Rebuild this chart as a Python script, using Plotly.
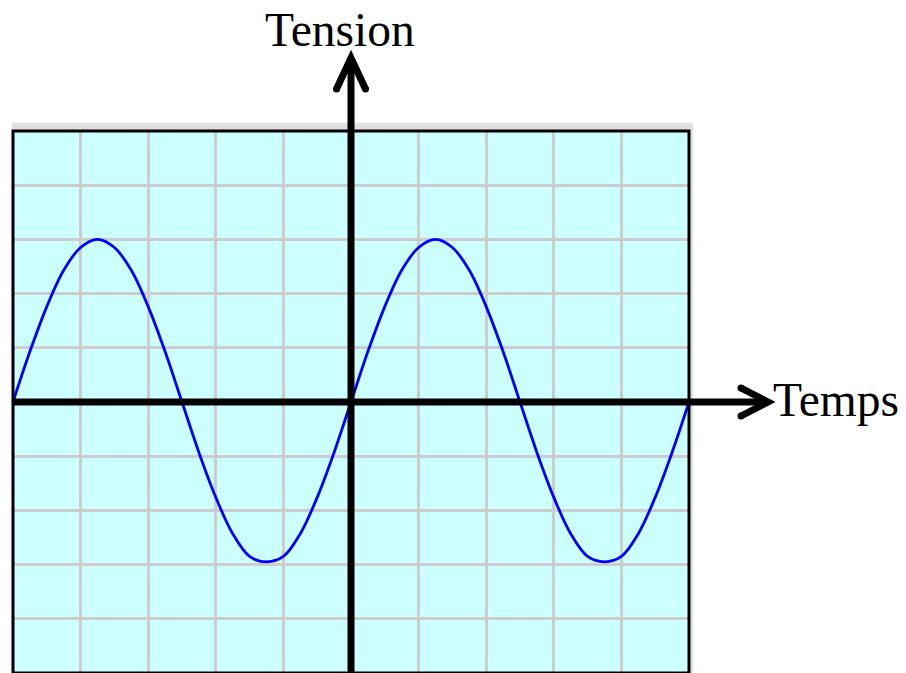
import plotly.graph_objects as go

# ---- data (in screen divisions) ----
t_div = [-5.0, -4.75, -4.5, -4.25, -4.0, -3.75, -3.5, -3.25, -3.0, -2.75,
         -2.5, -2.25, -2.0, -1.75, -1.5, -1.25, -1.0, -0.75, -0.5, -0.25,
         0.0, 0.25, 0.5, 0.75, 1.0, 1.25, 1.5, 1.75, 2.0, 2.25,
         2.5, 2.75, 3.0, 3.25, 3.5, 3.75, 4.0, 4.25, 4.5, 4.75, 5.0]
u_div = [0.0, 0.93, 1.76, 2.43, 2.85, 3.0, 2.85, 2.43, 1.76, 0.93,
         0.0, -0.93, -1.76, -2.43, -2.85, -2.95, -2.85, -2.43, -1.76, -0.93,
         0.0, 0.93, 1.76, 2.43, 2.85, 3.0, 2.85, 2.43, 1.76, 0.93,
         0.0, -0.93, -1.76, -2.43, -2.85, -2.95, -2.85, -2.43, -1.76, -0.93, 0.0]
x_range = [-5, 5]
y_range = [-5, 5]
x_label = "Temps"
y_label = "Tension"

# ---- layout geometry ----
OFF = 8                      # page body margin
W, H = 906 - OFF, 673 - OFF  # figure size
ML, MR, MT, MB = 13 - OFF, 217, 131 - OFF, 0
PW, PH = W - ML - MR, H - MT - MB


# screen pixel -> paper
def px2paper_x(px):
    return (px - OFF - ML) / PW


def px2paper_y(py):
    return (H - MB - (py - OFF)) / PH


# data -> screen pixel
def data2px_x(x):
    return OFF + ML + (x - x_range[0]) / (x_range[1] - x_range[0]) * PW


def data2px_y(y):
    return OFF + H - MB - (y - y_range[0]) / (y_range[1] - y_range[0]) * PH


fig = go.Figure()
fig.add_trace(go.Scatter(x=t_div, y=u_div, mode="lines",
                         line=dict(color="#0000ff", width=2.8, shape="spline"),
                         hoverinfo="skip", showlegend=False))

shapes = []
# grey frame band (top and right)
shapes.append(dict(type="rect", xref="paper", yref="paper", layer="below",
                   x0=px2paper_x(12), x1=px2paper_x(693), y0=px2paper_y(130), y1=px2paper_y(123),
                   fillcolor="#e0e0e0", line=dict(width=0)))
shapes.append(dict(type="rect", xref="paper", yref="paper", layer="below",
                   x0=px2paper_x(690), x1=px2paper_x(693), y0=px2paper_y(673), y1=px2paper_y(123),
                   fillcolor="#e0e0e0", line=dict(width=0)))
# black border
shapes.append(dict(type="rect", xref="paper", yref="paper", x0=0, x1=1, y0=0, y1=1,
                   line=dict(color="black", width=3)))

ox, oy = data2px_x(0), data2px_y(0)
AW = 7
# horizontal axis + arrow
h_tip = 768
shapes.append(dict(type="line", xref="paper", yref="paper",
                   x0=0, x1=px2paper_x(h_tip - 3), y0=px2paper_y(oy), y1=px2paper_y(oy),
                   line=dict(color="black", width=AW)))
h_arms = [(h_tip - 27, oy - 14), (h_tip, oy), (h_tip - 27, oy + 14)]
shapes.append(dict(type="path", xref="paper", yref="paper",
                   path="M {} {} L {} {} L {} {}".format(
                       px2paper_x(h_arms[0][0]), px2paper_y(h_arms[0][1]),
                       px2paper_x(h_arms[1][0]), px2paper_y(h_arms[1][1]),
                       px2paper_x(h_arms[2][0]), px2paper_y(h_arms[2][1])),
                   line=dict(color="black", width=AW)))
# vertical axis + arrow
v_tip = 58
shapes.append(dict(type="line", xref="paper", yref="paper",
                   x0=px2paper_x(ox), x1=px2paper_x(ox), y0=px2paper_y(680), y1=px2paper_y(v_tip + 3),
                   line=dict(color="black", width=AW)))
v_arms = [(ox - 14.5, v_tip + 31), (ox, v_tip), (ox + 14.5, v_tip + 31)]
shapes.append(dict(type="path", xref="paper", yref="paper",
                   path="M {} {} L {} {} L {} {}".format(
                       px2paper_x(v_arms[0][0]), px2paper_y(v_arms[0][1]),
                       px2paper_x(v_arms[1][0]), px2paper_y(v_arms[1][1]),
                       px2paper_x(v_arms[2][0]), px2paper_y(v_arms[2][1])),
                   line=dict(color="black", width=AW)))
# round caps at arm ends
r = AW / 2
for (cx, cy) in [h_arms[0], h_arms[2], v_arms[0], v_arms[2]]:
    shapes.append(dict(type="circle", xref="paper", yref="paper",
                       x0=px2paper_x(cx - r), x1=px2paper_x(cx + r),
                       y0=px2paper_y(cy + r), y1=px2paper_y(cy - r),
                       fillcolor="black", line=dict(width=0)))

annotations = [
    dict(text=y_label, xref="paper", yref="paper", x=px2paper_x(340), y=px2paper_y(30),
         xanchor="center", yanchor="middle", showarrow=False, height=42, borderpad=0,
         font=dict(family="Liberation Serif", size=47.5, color="black")),
    dict(text=x_label, xref="paper", yref="paper", x=px2paper_x(772), y=px2paper_y(400),
         xanchor="left", yanchor="middle", showarrow=False, borderpad=0,
         font=dict(family="Liberation Serif", size=47.5, color="black")),
]

axis_common = dict(showgrid=True, gridcolor="#cccccc", gridwidth=3, dtick=1,
                   zeroline=False, showticklabels=False, ticks="", showline=False,
                   fixedrange=True)
fig.update_layout(
    width=W, height=H, autosize=False,
    margin=dict(l=ML, r=MR, t=MT, b=MB, pad=0),
    paper_bgcolor="white", plot_bgcolor="#ccffff",
    xaxis=dict(range=x_range, tick0=0, **axis_common),
    yaxis=dict(range=y_range, tick0=0, **axis_common),
    shapes=shapes, annotations=annotations, showlegend=False,
)
fig.write_html("out.html")
